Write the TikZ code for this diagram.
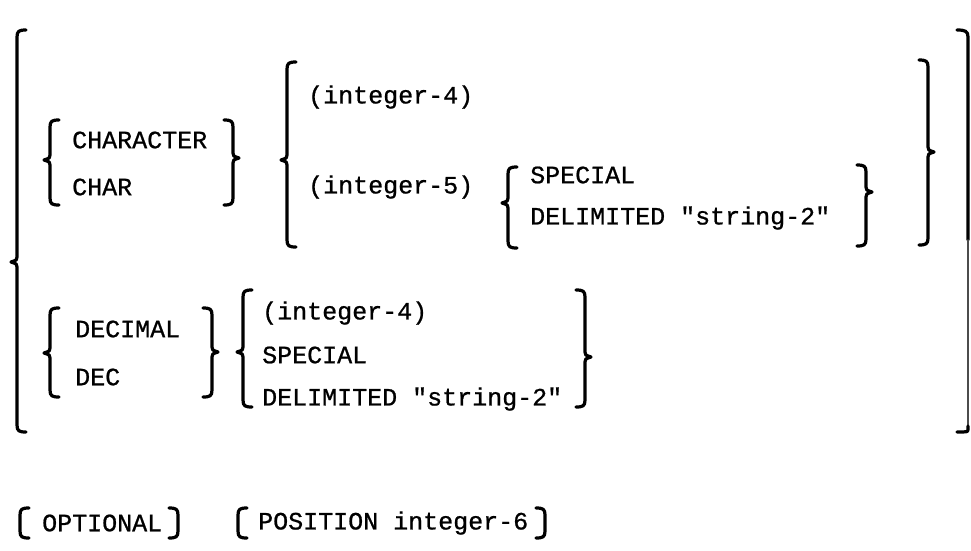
\documentclass[tikz,border=0pt]{standalone}
\usepackage{fontspec}
\setmonofont[FakeBold=0.8]{Liberation Mono}
\tikzset{
  br/.style={line width=3.2pt, line cap=round, line join=round},
  thinbr/.style={line width=1.6pt, line cap=round, black!70},
  txt/.style={anchor=west, inner sep=0pt, font=\ttfamily\fontsize{25}{25}\selectfont}
}
% left brace: x, top, bottom, cusp
\newcommand{\brL}[4]{%
  \draw[br] (#1+9,#2) .. controls (#1+2,#2) and (#1,#2+1) .. (#1,#2+7)
    -- (#1,#4-5) .. controls (#1,#4-2) .. (#1-6,#4)
    .. controls (#1,#4+2) .. (#1,#4+5)
    -- (#1,#3-7) .. controls (#1,#3-1) and (#1+2,#3) .. (#1+9,#3);}
% right brace: x, top, bottom, cusp
\newcommand{\brR}[4]{%
  \draw[br] (#1-9,#2) .. controls (#1-2,#2) and (#1,#2+1) .. (#1,#2+7)
    -- (#1,#4-5) .. controls (#1,#4-2) .. (#1+6,#4)
    .. controls (#1,#4+2) .. (#1,#4+5)
    -- (#1,#3-7) .. controls (#1,#3-1) and (#1-2,#3) .. (#1-9,#3);}
% left bracket: x, top, bottom
\newcommand{\bkL}[3]{%
  \draw[br] (#1+9,#2) .. controls (#1+2,#2) and (#1,#2+1) .. (#1,#2+7)
    -- (#1,#3-7) .. controls (#1,#3-1) and (#1+2,#3) .. (#1+9,#3);}
% right bracket: x, top, bottom
\newcommand{\bkR}[3]{%
  \draw[br] (#1-9,#2) .. controls (#1-2,#2) and (#1,#2+1) .. (#1,#2+7)
    -- (#1,#3-7) .. controls (#1,#3-1) and (#1-2,#3) .. (#1-9,#3);}
\begin{document}
\begin{tikzpicture}[x=1pt,y=-1pt]
\useasboundingbox (0,0) rectangle (971,550);
% outer braces
\brL{17}{30}{432}{262}
\draw[br] (957,30) .. controls (965,30) and (968,31) .. (968,37) -- (968,240);
\draw[thinbr] (968,240) -- (968,426);
\draw[br] (968,426) -- (968,429) .. controls (968,432) .. (957,432);
% CHARACTER group
\brL{50}{120}{205}{160}
\node[txt] (character) at (72,140) {CHARACTER};
\node[txt] (char) at (72,187) {CHAR};
\brR{233}{120}{205}{158}
% integer group
\brL{287}{62}{247}{160}
\node[txt] (int4a) at (308,97) {(integer-4)};
\node[txt] (int5) at (308,187) {(integer-5)};
\brL{508}{167}{248}{203}
\node[txt] (speca) at (530,175) {SPECIAL};
\node[txt] (delima) at (530,218) {DELIMITED "string-2"};
\brR{866}{165}{246}{192}
\brR{928}{60}{245}{152}
% DECIMAL group
\brL{50}{308}{397}{353}
\node[txt] (decimal) at (75,329) {DECIMAL};
\node[txt] (dec) at (75,377) {DEC};
\brR{212}{308}{397}{352}
\brL{243}{290}{407}{352}
\node[txt] (int4b) at (262,313) {(integer-4)};
\node[txt] (specb) at (262,355) {SPECIAL};
\node[txt] (delimb) at (262,399) {DELIMITED "string-2"};
\brR{585}{290}{407}{357}
% bottom line
\bkL{20}{508}{538}
\node[txt] (optional) at (42,523) {OPTIONAL};
\bkR{178}{508}{538}
\bkL{238}{508}{538}
\node[txt] (position) at (258,523) {POSITION integer-6};
\bkR{545}{508}{538}
\end{tikzpicture}
\end{document}
